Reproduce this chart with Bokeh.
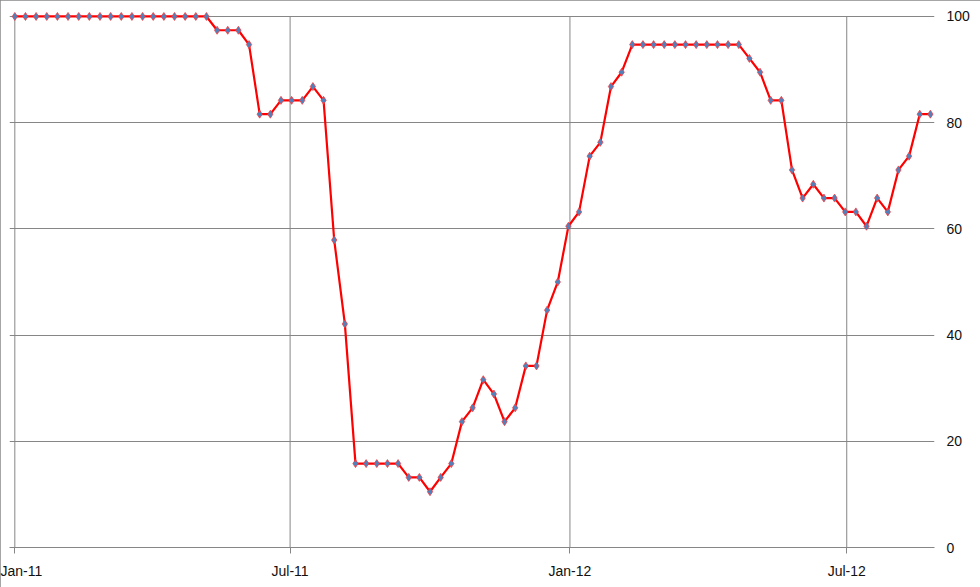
import pandas as pd
from bokeh.plotting import figure
from bokeh.models import Range1d, FixedTicker, DatetimeTickFormatter
from bokeh.embed import file_html
from bokeh.resources import INLINE

# weekly observations starting Jan 2011
start_date = "2011-01-01"
n_weeks = 87
values = [
    100, 100, 100, 100, 100, 100, 100, 100, 100, 100,
    100, 100, 100, 100, 100, 100, 100, 100, 100,
    97.4, 97.4, 97.4, 94.7, 81.6, 81.6, 84.2, 84.2, 84.2, 86.8, 84.2,
    57.9, 42.1, 15.8, 15.8, 15.8, 15.8, 15.8, 13.2, 13.2, 10.5,
    13.2, 15.8, 23.7, 26.3, 31.6, 28.9, 23.7, 26.3, 34.2, 34.2,
    44.7, 50.0, 60.5, 63.2, 73.7, 76.3, 86.8, 89.5,
    94.7, 94.7, 94.7, 94.7, 94.7, 94.7, 94.7, 94.7, 94.7, 94.7, 94.7,
    92.1, 89.5, 84.2, 84.2, 71.1, 65.8, 68.4, 65.8, 65.8, 63.2, 63.2,
    60.5, 65.8, 63.2, 71.1, 73.7, 81.6, 81.6,
]
tick_dates = ["2011-01-01", "2011-07-01", "2012-01-01", "2012-07-01"]
y_ticks = [0, 20, 40, 60, 80, 100]

dates = pd.date_range(start_date, periods=n_weeks, freq="7D")

def ms(d):
    return pd.Timestamp(d).value / 1e6

day = 86400000.0
x0 = ms(start_date)
x_tick_ms = [ms(d) for d in tick_dates]

p = figure(width=980, height=587, x_axis_type="datetime", y_axis_location="right",
           output_backend="svg", toolbar_location=None,
           min_border_left=9, min_border_top=8, min_border_right=46, min_border_bottom=40)
p.x_range = Range1d(x0 - 3.5 * day, x0 + 604.7 * day)
p.y_range = Range1d(0, 101.5)
p.outline_line_color = None
p.background_fill_color = "white"
p.border_fill_color = "white"
p.styles = {"outline": "1px solid #888888", "outline-offset": "-1px"}

p.xaxis.ticker = FixedTicker(ticks=x_tick_ms)
p.xaxis.formatter = DatetimeTickFormatter(days="%b-%y", months="%b-%y", years="%b-%y")
p.xaxis.axis_line_color = "#868686"
p.xaxis.major_tick_line_color = "#868686"
p.xaxis.major_tick_out = 6
p.xaxis.major_tick_in = 0
p.xaxis.minor_tick_line_color = None
p.xaxis.major_label_standoff = 9

p.yaxis.ticker = FixedTicker(ticks=y_ticks)
p.yaxis.axis_line_color = None
p.yaxis.major_tick_line_color = None
p.yaxis.major_tick_out = 0
p.yaxis.major_tick_in = 0
p.yaxis.minor_tick_line_color = None
p.yaxis.major_label_standoff = 12

for ax in (p.xaxis, p.yaxis):
    ax.major_label_text_font = "Liberation Sans"
    ax.major_label_text_font_size = "14px"
    ax.major_label_text_color = "#111111"

p.xgrid.grid_line_color = None
p.ygrid.ticker = p.yaxis.ticker
p.ygrid.grid_line_color = "#868686"
p.ygrid.grid_line_width = 1

# vertical gridlines only up to the 100 line
p.segment(x0=x_tick_ms, y0=[y_ticks[0]] * len(x_tick_ms),
          x1=x_tick_ms, y1=[y_ticks[-1]] * len(x_tick_ms),
          line_color="#868686", line_width=1)

p.line(dates, values, line_color="#ff0000", line_width=2.2)
p.scatter(dates, values, marker="diamond", size=8, fill_color="#4f81bd",
          line_color="#ff3030", line_alpha=0.7, line_width=1)

open("out.html", "w").write(file_html(p, INLINE))
